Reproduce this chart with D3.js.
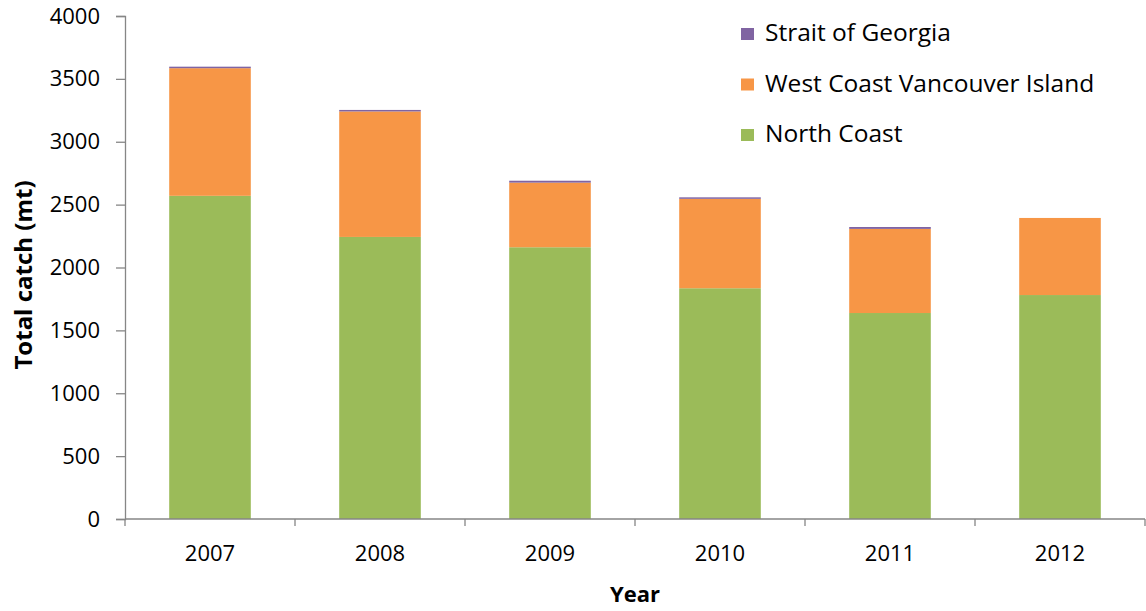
<!DOCTYPE html>
<html>
<head>
<meta charset="utf-8">
<script src="https://cdn.jsdelivr.net/npm/d3@7"></script>
<style>
  html, body { margin: 0; padding: 0; background: #fff; }
  svg { display: block; }
  text { font-family: "Open Sans", Lato, sans-serif; fill: #000; }
</style>
</head>
<body>
<svg id="chart" width="1146" height="611"></svg>
<script>
// Annual catch by region (metric tonnes)
const years = ["2007", "2008", "2009", "2010", "2011", "2012"];
const northCoast = [2570, 2243, 2161, 1835, 1638, 1781];
const westCoastVI = [1015, 998, 514, 711, 669, 613];
const straitOfGeorgia = [12, 12, 15, 12, 15, 0];
const yTicks = [0, 500, 1000, 1500, 2000, 2500, 3000, 3500, 4000];

const seriesNames = ["North Coast", "West Coast Vancouver Island", "Strait of Georgia"];
const seriesColors = ["#9BBB59", "#F79646", "#8064A2"];
const seriesValues = [northCoast, westCoastVI, straitOfGeorgia];

const rows = years.map((yr, i) => {
  const r = { year: yr };
  seriesNames.forEach((n, k) => r[n] = seriesValues[k][i]);
  return r;
});

const svg = d3.select("#chart");
const plotLeft = 125, plotRight = 1145, plotTop = 16, plotBottom = 519;

const x = d3.scaleBand().domain(years).range([plotLeft, plotRight]).paddingInner(0.52).paddingOuter(0.26);
const y = d3.scaleLinear().domain([0, 4000]).range([plotBottom, plotTop]);

const layers = d3.stack().keys(seriesNames)(rows);

svg.append("g").selectAll("g")
  .data(layers)
  .join("g")
  .attr("fill", (d, i) => seriesColors[i])
  .selectAll("rect")
  .data(d => d)
  .join("rect")
  .attr("x", d => x(d.data.year))
  .attr("width", x.bandwidth())
  .attr("y", d => y(d[1]))
  .attr("height", d => Math.max(0, y(d[0]) - y(d[1])));

const axisColor = "#868686";

// Y axis
const yAxis = svg.append("g")
  .attr("transform", `translate(${plotLeft},0)`)
  .call(d3.axisLeft(y).tickValues(yTicks).tickSize(9).tickPadding(16).tickFormat(d3.format("d")));
yAxis.select(".domain").attr("stroke", axisColor).attr("stroke-width", 1.3);
yAxis.selectAll(".tick line").attr("stroke", axisColor).attr("stroke-width", 1.3);
yAxis.selectAll(".tick text")
  .attr("font-size", 22)
  .attr("font-family", "'Open Sans', sans-serif")
  .attr("fill", "#000");

// X axis with ticks at category boundaries
const xAxisG = svg.append("g").attr("transform", `translate(0,${plotBottom})`);
xAxisG.append("line")
  .attr("x1", plotLeft).attr("x2", plotRight).attr("y1", 0).attr("y2", 0)
  .attr("stroke", axisColor).attr("stroke-width", 1.3);
const boundaries = d3.range(years.length + 1).map(i => plotLeft + i * (plotRight - plotLeft) / years.length);
xAxisG.selectAll("line.b")
  .data(boundaries)
  .join("line")
  .attr("class", "b")
  .attr("x1", d => d).attr("x2", d => d)
  .attr("y1", 0).attr("y2", 7)
  .attr("stroke", axisColor).attr("stroke-width", 1.3);
xAxisG.selectAll("text")
  .data(years)
  .join("text")
  .attr("x", d => x(d) + x.bandwidth() / 2)
  .attr("y", 42)
  .attr("text-anchor", "middle")
  .attr("font-size", 22)
  .text(d => d);

// Axis titles
svg.append("text")
  .attr("x", (plotLeft + plotRight) / 2)
  .attr("y", 602)
  .attr("text-anchor", "middle")
  .attr("font-size", 22)
  .attr("font-weight", "bold")
  .text("Year");

svg.append("text")
  .attr("transform", "translate(32,275) rotate(-90)")
  .attr("text-anchor", "middle")
  .attr("font-size", 24)
  .attr("font-weight", "bold")
  .text("Total catch (mt)");

// Legend (top series first)
const legendItems = seriesNames.map((n, i) => ({ name: n, color: seriesColors[i] })).reverse();
const legend = svg.append("g").attr("transform", "translate(741,0)");
const lg = legend.selectAll("g")
  .data(legendItems)
  .join("g")
  .attr("transform", (d, i) => `translate(0,${34 + i * 50.5})`);
lg.append("rect")
  .attr("x", 0).attr("y", -6).attr("width", 13).attr("height", 12)
  .attr("fill", d => d.color);
lg.append("text")
  .attr("x", 24).attr("y", 7)
  .attr("font-size", 24.5)
  .text(d => d.name);
</script>
</body>
</html>
